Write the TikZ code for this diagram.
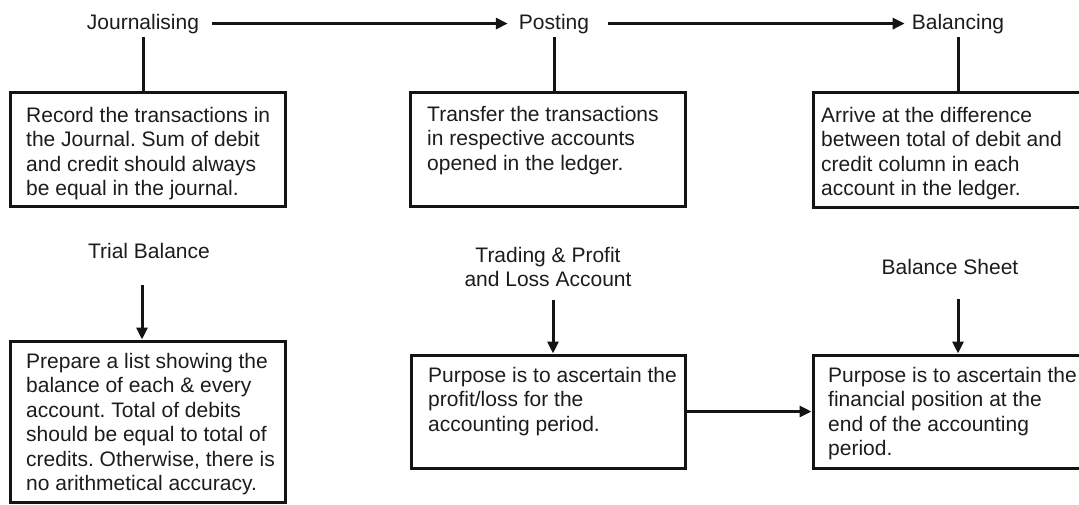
\documentclass[tikz,border=0pt]{standalone}
\usepackage{fontspec}
\setmainfont{Liberation Sans}
\usetikzlibrary{arrows.meta}
\definecolor{txt}{HTML}{1C1C1C}
\definecolor{ln}{HTML}{141414}
\frenchspacing
\begin{document}
\begin{tikzpicture}[x=1pt,y=-1pt,
  lbl/.style={font=\fontsize{21}{24}\selectfont, text=txt, inner sep=0pt},
  boxnode/.style={draw=ln, line width=3pt, anchor=north west, inner sep=0pt, outer sep=0pt},
  bodytext/.style={font=\fontsize{21}{24.5}\selectfont, text=txt, align=left, anchor=north west, inner sep=0pt},
  conn/.style={draw=ln, line width=3pt},
  arr/.style={conn, -{Triangle[length=12pt,width=11pt]}}]
\useasboundingbox (0,0) rectangle (1079,504);
\clip (0,0) rectangle (1079,504);

% boxes
\node[boxnode, minimum width=275pt, minimum height=114pt] (b1) at (10,92) {};
\node[boxnode, minimum width=275pt, minimum height=114pt] (b2) at (410,92) {};
\node[boxnode, minimum width=285pt, minimum height=115pt] (b3) at (813,92) {};
\node[boxnode, minimum width=275pt, minimum height=161pt] (b4) at (10,341) {};
\node[boxnode, minimum width=274pt, minimum height=113pt] (b5) at (411,355) {};
\node[boxnode, minimum width=285pt, minimum height=113pt] (b6) at (813,355) {};

% box texts
\node[bodytext] (t1) at ([shift={(16,15)}]b1.north west) {Record the transactions in\\the Journal. Sum of debit\\and credit should always\\be equal in the journal.};
\node[bodytext] (t2) at ([shift={(17,14)}]b2.north west) {Transfer the transactions\\in respective accounts\\opened in the ledger.};
\node[bodytext] (t3) at ([shift={(8,15)}]b3.north west) {Arrive at the difference\\between total of debit and\\credit column in each\\account in the ledger.};
\node[bodytext] (t4) at ([shift={(16,12)}]b4.north west) {Prepare a list showing the\\balance of each \& every\\account. Total of debits\\should be equal to total of\\credits. Otherwise, there is\\no arithmetical accuracy.};
\node[bodytext] (t5) at ([shift={(17,12)}]b5.north west) {Purpose is to ascertain the\\profit/loss for the\\accounting period.};
\node[bodytext] (t6) at ([shift={(15,12)}]b6.north west) {Purpose is to ascertain the\\financial position at the\\end of the accounting\\period.};

% labels
\node[lbl, anchor=base] (J) at (143,29) {Journalising};
\node[lbl, anchor=base] (P) at (554,29) {Posting};
\node[lbl, anchor=base] (B) at (958,29) {Balancing};
\node[lbl, anchor=base] (TB) at (149,258) {Trial Balance};
\node[lbl, anchor=north, align=center] (TPL) at (548,247) {Trading \& Profit\\and Loss Account};
\node[lbl, anchor=base] (BS) at (950,274) {Balance Sheet};

% connectors
\draw[arr, shorten <=13pt, shorten >=11pt] (J) -- (P);
\draw[arr, shorten <=19pt, shorten >=7pt] (P) -- (B);
\draw[conn, shorten <=3.5pt] (J.south) -- (J.south |- b1.north);
\draw[conn, shorten <=3.5pt] (P.south) -- (P.south |- b2.north);
\draw[conn, shorten <=3.5pt] (B.south) -- (B.south |- b3.north);
\draw[arr, shorten <=27pt, shorten >=1.5pt] ([xshift=-7pt]TB.south) -- ([xshift=-7pt]TB.south |- b4.north);
\draw[arr, shorten <=13pt, shorten >=1.5pt] ([xshift=5pt]TPL.south) -- ([xshift=5pt]TPL.south |- b5.north);
\draw[arr, shorten <=25pt, shorten >=1.5pt] ([xshift=8pt]BS.south) -- ([xshift=8pt]BS.south |- b6.north);
\draw[arr, shorten >=1.5pt] (b5.east) -- (b6.west);
\end{tikzpicture}
\end{document}
